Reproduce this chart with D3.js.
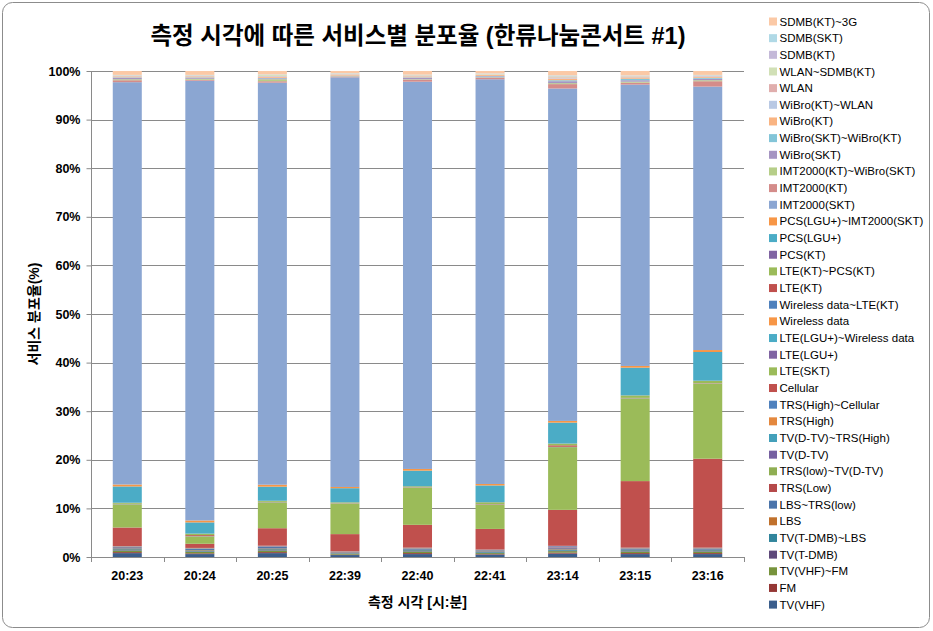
<!DOCTYPE html>
<html><head><meta charset="utf-8">
<script src="https://cdn.jsdelivr.net/npm/d3@7"></script>
<style>
html,body{margin:0;padding:0;background:#fff;}
svg{display:block;font-family:"Liberation Sans","Noto Sans CJK KR",sans-serif;}
</style></head>
<body>
<svg id="chart" width="933" height="631"></svg>
<script>
// ---------- data ----------
const categories = ["20:23","20:24","20:25","22:39","22:40","22:41","23:14","23:15","23:16"];
const yTicks = [0,0.1,0.2,0.3,0.4,0.5,0.6,0.7,0.8,0.9,1.0];

// series listed bottom (first) to top (last) of the stack, values in %
const tvVhf        = [0.8, 0.6, 0.8, 0.4, 0.6, 0.5, 0.7, 0.6, 0.6];
const fm           = [0.2, 0.15,0.2, 0.1, 0.2, 0.1, 0.2, 0.2, 0.2];
const tvVhfFm      = [0.3, 0.3, 0.3, 0.15,0.3, 0.2, 0.3, 0.3, 0.3];
const tvTdmb       = [0.1, 0.1, 0.1, 0.05,0.1, 0.1, 0.1, 0.1, 0.1];
const tvTdmbLbs    = [0.2, 0.2, 0.2, 0.1, 0.2, 0.15,0.2, 0.2, 0.2];
const lbs          = [0.15,0.1, 0.15,0.1, 0.1, 0.1, 0.1, 0.1, 0.1];
const lbsTrsLow    = [0.25,0.2, 0.3, 0.1, 0.2, 0.2, 0.2, 0.2, 0.2];
const trsLow       = [0.05,0.05,0.05,0.03,0.05,0.03,0.1, 0.05,0.05];
const trsLowDtv    = [0.05,0.05,0.05,0.03,0.05,0.03,0.05,0.05,0.05];
const tvDtv        = [0.05,0.05,0.1, 0.03,0.05,0.05,0.25,0.05,0.05];
const tvDtvTrsHigh = [0.02,0.02,0.02,0.02,0.02,0.02,0.05,0.02,0.02];
const trsHigh      = [0.02,0.02,0.02,0.02,0.02,0.02,0.02,0.02,0.02];
const trsHighCell  = [0.03,0.03,0.03,0.03,0.03,0.03,0.03,0.03,0.03];
const cellular     = [3.85,0.85,3.6, 3.55,4.7, 4.25,7.4, 13.7,18.3];
const lteSkt       = [4.75,1.5, 5.3, 6.2, 7.6, 5.0, 12.9,17.0,15.4];
const lteLgu       = [0.02,0.02,0.02,0.02,0.02,0.02,0.02,0.02,0.02];
const lteLguWd     = [0.02,0.02,0.02,0.02,0.02,0.02,0.02,0.02,0.02];
const wirelessData = [0.02,0.02,0.02,0.02,0.02,0.02,0.02,0.02,0.02];
const wdLteKt      = [0.02,0.02,0.02,0.02,0.02,0.02,0.02,0.02,0.02];
const lteKt        = [0.05,0.2, 0.05,0.05,0.05,0.05,0.3, 0.05,0.05];
const lteKtPcsKt   = [0.2, 0.3, 0.2, 0.2, 0.2, 0.35,0.35,0.5, 0.5];
const pcsKt        = [0.02,0.02,0.02,0.02,0.02,0.02,0.02,0.02,0.02];
const pcsLgu       = [3.35,2.3, 2.9, 2.9, 3.2, 3.45,4.3, 5.7, 5.9];
const pcsLguImtSkt = [0.4, 0.4, 0.4, 0.25,0.35,0.3, 0.35,0.35,0.4];
const imtSkt       = [82.8,90.5,82.7,84.3,79.7,83.3,68.4,57.9,54.2];
const imtKt        = [0.4, 0.2, 0.3, 0.1, 0.4, 0.3, 0.9, 0.4, 1.1];
const imtKtWibroSkt= [0.2, 0.2, 0.4, 0.1, 0.1, 0.1, 0.2, 0.2, 0.2];
const wibroSkt     = [0.3, 0.2, 0.2, 0.1, 0.3, 0.2, 0.4, 0.3, 0.3];
const wibroSktKt   = [0.1, 0.1, 0.1, 0.05,0.1, 0.1, 0.2, 0.3, 0.2];
const wibroKt      = [0.2, 0.2, 0.2, 0.2, 0.2, 0.2, 0.3, 0.3, 0.2];
const wibroKtWlan  = [0.05,0.05,0.1, 0.05,0.05,0.05,0.1, 0.1, 0.1];
const wlan         = [0.05,0.05,0.1, 0.05,0.1, 0.05,0.2, 0.1, 0.1];
const wlanSdmbKt   = [0.1, 0.1, 0.2, 0.1, 0.1, 0.1, 0.2, 0.1, 0.1];
const sdmbKt       = [0.05,0.05,0.05,0.05,0.05,0.05,0.1, 0.05,0.05];
const sdmbSkt      = [0.05,0.05,0.05,0.05,0.05,0.05,0.1, 0.05,0.05];
const sdmbKt3g     = [0.8, 0.8, 0.7, 0.45,0.75,0.5, 0.9, 0.9, 0.8];

const seriesNames = ["TV(VHF)","FM","TV(VHF)~FM","TV(T-DMB)","TV(T-DMB)~LBS","LBS","LBS~TRS(low)","TRS(Low)",
  "TRS(low)~TV(D-TV)","TV(D-TV)","TV(D-TV)~TRS(High)","TRS(High)","TRS(High)~Cellular","Cellular","LTE(SKT)",
  "LTE(LGU+)","LTE(LGU+)~Wireless data","Wireless data","Wireless data~LTE(KT)","LTE(KT)","LTE(KT)~PCS(KT)",
  "PCS(KT)","PCS(LGU+)","PCS(LGU+)~IMT2000(SKT)","IMT2000(SKT)","IMT2000(KT)","IMT2000(KT)~WiBro(SKT)",
  "WiBro(SKT)","WiBro(SKT)~WiBro(KT)","WiBro(KT)","WiBro(KT)~WLAN","WLAN","WLAN~SDMB(KT)","SDMB(KT)",
  "SDMB(SKT)","SDMB(KT)~3G"];
const seriesValues = [tvVhf,fm,tvVhfFm,tvTdmb,tvTdmbLbs,lbs,lbsTrsLow,trsLow,trsLowDtv,tvDtv,tvDtvTrsHigh,
  trsHigh,trsHighCell,cellular,lteSkt,lteLgu,lteLguWd,wirelessData,wdLteKt,lteKt,lteKtPcsKt,pcsKt,pcsLgu,
  pcsLguImtSkt,imtSkt,imtKt,imtKtWibroSkt,wibroSkt,wibroSktKt,wibroKt,wibroKtWlan,wlan,wlanSdmbKt,sdmbKt,
  sdmbSkt,sdmbKt3g];
const seriesColors = ["#3B5E8C","#953735","#77933C","#5F497A","#31859C","#C0712C",
  "#4A74AA","#B5494A","#8FAE52","#7660A0","#44A0BA","#E4883E",
  "#4F81BD","#C0504D","#9BBB59","#8064A2","#4BACC6","#F79646",
  "#4F81BD","#C0504D","#9BBB59","#8064A2","#4BACC6","#F79646",
  "#8BA6D2","#D48C8A","#B6CE88","#A695C2","#83C5D8","#F9B482",
  "#B9C9E4","#E0AEAD","#D1E0B6","#C4B9D8","#B0D9E6","#FBC9A6"];

// ---------- layout ----------
const svg = d3.select("#chart");
const M = {left:91, right:744, top:71, bottom:557};

svg.append("rect").attr("x",2.5).attr("y",2.5).attr("width",927).attr("height",625)
  .attr("rx",10).attr("fill","#fff").attr("stroke","#8c8c8c").attr("stroke-width",1);

const x = d3.scaleBand().domain(categories).range([M.left,M.right]).paddingInner(0.6).paddingOuter(0.3);
const y = d3.scaleLinear().domain([0,1]).range([M.bottom,M.top]);

// gridlines
svg.append("g").selectAll("line").data(yTicks.slice(1)).join("line")
  .attr("x1",M.left).attr("x2",M.right)
  .attr("y1",d=>Math.round(y(d))+0.5).attr("y2",d=>Math.round(y(d))+0.5)
  .attr("stroke","#8a8a8a").attr("stroke-width",1);

// stacked data
const rows = categories.map((c,i)=>{
  const r = {cat:c};
  seriesNames.forEach((n,k)=>{ r[n] = seriesValues[k][i]; });
  return r;
});
const stack = d3.stack().keys(seriesNames).offset(d3.stackOffsetExpand);
const layers = stack(rows);

svg.append("g").selectAll("g").data(layers).join("g")
  .attr("fill",(d,i)=>seriesColors[i])
  .selectAll("rect").data(d=>d).join("rect")
  .attr("x",d=>x(d.data.cat))
  .attr("width",x.bandwidth())
  .attr("y",d=>y(d[1]))
  .attr("height",d=>Math.max(0,y(d[0])-y(d[1])));

// y axis
const yAxis = d3.axisLeft(y).tickValues(yTicks).tickFormat(d3.format(".0%")).tickSize(5).tickPadding(6);
const gy = svg.append("g").attr("transform",`translate(${M.left+0.5},0)`).call(yAxis);
gy.selectAll(".domain").attr("stroke","#8a8a8a").attr("d",`M0,${M.top}V${M.bottom}`);
gy.selectAll(".tick line").attr("stroke","#8a8a8a");
gy.selectAll(".tick text").attr("font-size","12.5px").attr("font-weight","bold").attr("fill","#000");

// x axis
const xAxis = d3.axisBottom(x).tickSize(0).tickPadding(14);
const gx = svg.append("g").attr("transform",`translate(0,${M.bottom+0.5})`).call(xAxis);
gx.select(".domain").attr("stroke","#8a8a8a").attr("d",`M${M.left},0H${M.right}`);
gx.selectAll(".tick text").attr("font-size","12.5px").attr("font-weight","bold").attr("fill","#000");
// boundary tick marks
const step = x.step();
svg.append("g").selectAll("line").data(d3.range(categories.length+1)).join("line")
  .attr("x1",i=>Math.round(M.left+i*step)+0.5).attr("x2",i=>Math.round(M.left+i*step)+0.5)
  .attr("y1",M.bottom).attr("y2",M.bottom+5).attr("stroke","#8a8a8a");

// titles
svg.append("text").attr("x",418).attr("y",44).attr("text-anchor","middle")
  .attr("font-size","23.5px").attr("font-weight","bold").attr("fill","#000")
  .text("측정 시각에 따른 서비스별 분포율 (한류나눔콘서트 #1)");
svg.append("text").attr("x",(M.left+M.right)/2).attr("y",607).attr("text-anchor","middle")
  .attr("font-size","14px").attr("font-weight","bold").attr("fill","#000")
  .text("측정 시각 [시:분]");
svg.append("text").attr("transform",`translate(39,${(M.top+M.bottom)/2}) rotate(-90)`)
  .attr("text-anchor","middle").attr("font-size","14px").attr("font-weight","bold").attr("fill","#000")
  .text("서비스 분포율(%)");

// legend (top to bottom = reverse stack order)
const legendItems = seriesNames.map((n,i)=>({name:n,color:seriesColors[i]})).reverse();
const lg = svg.append("g");
const item = lg.selectAll("g").data(legendItems).join("g")
  .attr("transform",(d,i)=>`translate(769,${21.5+i*16.66})`);
item.append("rect").attr("x",0).attr("y",-4).attr("width",8).attr("height",8).attr("fill",d=>d.color);
item.append("text").attr("x",10.5).attr("y",0).attr("dy","0.35em")
  .attr("font-size","11.5px").attr("fill","#000").text(d=>d.name);
</script>
</body></html>
